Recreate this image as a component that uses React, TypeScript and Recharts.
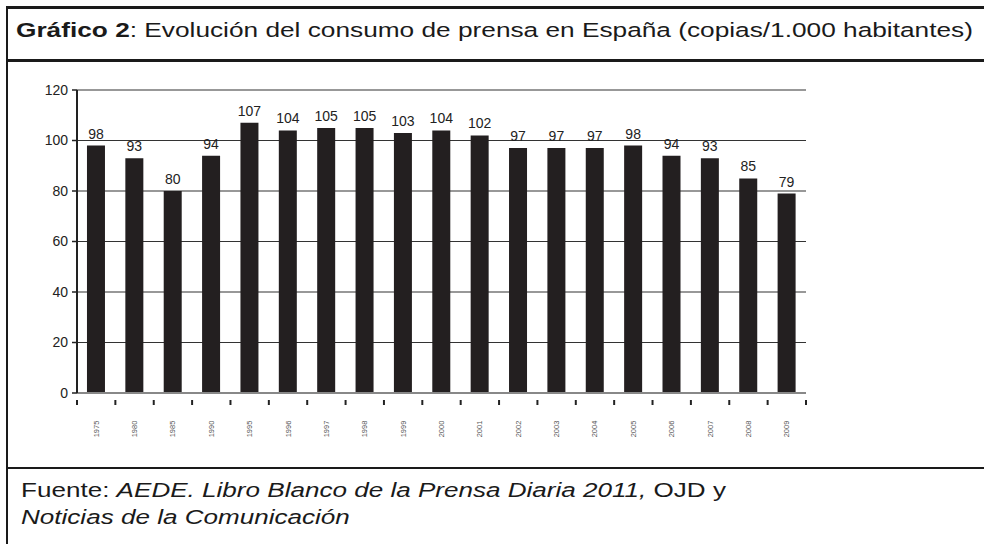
import React from 'react'
import { BarChart, Bar, XAxis, YAxis, CartesianGrid, LabelList } from 'recharts'

const years = ['1975', '1980', '1985', '1990', '1995', '1996', '1997', '1998', '1999', '2000', '2001', '2002', '2003', '2004', '2005', '2006', '2007', '2008', '2009']
const copies = [98, 93, 80, 94, 107, 104, 105, 105, 103, 104, 102, 97, 97, 97, 98, 94, 93, 85, 79]
const yTicks = [0, 20, 40, 60, 80, 100, 120]

const data = years.map((y, i) => ({ year: y, value: copies[i] }))

const W = 984
const H = 544
const PLOT_LEFT = 77
const PLOT_RIGHT = 806
const PLOT_TOP = 90
const PLOT_BOTTOM = 393
const X_AXIS_H = 60
const BAND = (PLOT_RIGHT - PLOT_LEFT) / years.length
const FONT = '"Liberation Sans", Arial, sans-serif'

const YearTick = ({ x, y, payload, index }: any) => {
  const left = x - BAND / 2
  const ly = 429
  return (
    <g>
      <line x1={left} x2={left} y1={y - 1} y2={y + 4} stroke="#222" strokeWidth={2} />
      {index === years.length - 1 && (
        <line x1={left + BAND} x2={left + BAND} y1={y - 1} y2={y + 4} stroke="#222" strokeWidth={2} />
      )}
      <text
        x={x} y={ly} transform={`rotate(-90, ${x}, ${ly})`}
        textAnchor="middle" dominantBaseline="central"
        fontSize={7.5} fill="#555" fontFamily={FONT}
      >
        {payload.value}
      </text>
    </g>
  )
}

const line = (style: React.CSSProperties) => (
  <div style={{ position: 'absolute', background: '#1a1a1a', ...style }} />
)

export default function App() {
  return (
    <div style={{ position: 'absolute', left: 0, top: 0, width: W, height: H, background: '#fff', overflow: 'hidden', fontFamily: FONT, color: '#1a1a1a' }}>
      <BarChart
        width={W} height={H} data={data}
        margin={{ top: PLOT_TOP, right: W - PLOT_RIGHT, bottom: H - PLOT_BOTTOM - X_AXIS_H, left: 0 }}
        barCategoryGap="26%"
        style={{ position: 'absolute', left: 0, top: 0 }}
      >
        <CartesianGrid vertical={false} stroke="#333" strokeWidth={1.2} />
        <XAxis
          dataKey="year" interval={0} tickLine={false} height={X_AXIS_H}
          axisLine={{ stroke: '#888', strokeWidth: 2 }}
          tick={<YearTick />}
        />
        <YAxis
          domain={[0, 120]} ticks={yTicks} width={PLOT_LEFT} interval={0}
          tickSize={5} tickMargin={4}
          tickLine={{ stroke: '#222', strokeWidth: 1.5 }}
          axisLine={{ stroke: '#222', strokeWidth: 2 }}
          tick={{ fill: '#222', fontSize: 14, fontFamily: FONT }}
        />
        <Bar dataKey="value" fill="#231f20" isAnimationActive={false}>
          <LabelList dataKey="value" position="top" offset={7} fill="#222" fontSize={14} fontFamily={FONT} />
        </Bar>
      </BarChart>

      {line({ left: 6, top: 6, width: W, height: 2.5 })}
      {line({ left: 6, top: 6, width: 2, height: H })}
      {line({ left: 6, top: 59, width: W, height: 2.5 })}
      {line({ left: 6, top: 466.5, width: W, height: 2.5 })}

      <div style={{ position: 'absolute', left: 16, top: 18, fontSize: 20.5, whiteSpace: 'nowrap', lineHeight: '24px', transform: 'scaleX(1.28)', transformOrigin: '0 0' }}>
        <b>Gráfico 2</b>: Evolución del consumo de prensa en España (copias/1.000 habitantes)
      </div>
      <div style={{ position: 'absolute', left: 21, top: 477, fontSize: 19.6, lineHeight: '27px', whiteSpace: 'nowrap', transform: 'scaleX(1.33)', transformOrigin: '0 0' }}>
        Fuente: <i>AEDE. Libro Blanco de la Prensa Diaria 2011,</i> OJD y<br />
        <i>Noticias de la Comunicación</i>
      </div>
    </div>
  )
}
